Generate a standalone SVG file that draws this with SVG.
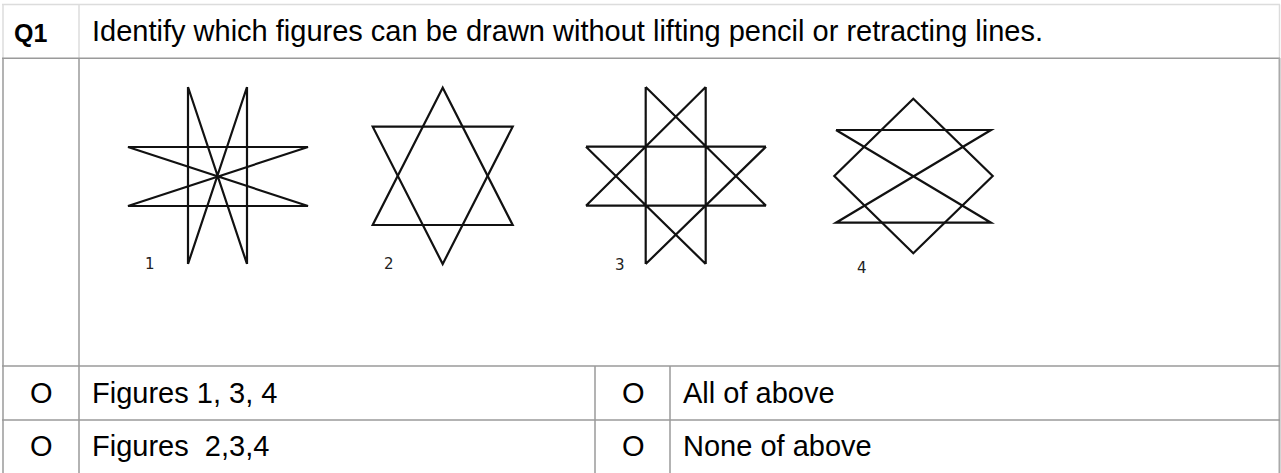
<svg xmlns="http://www.w3.org/2000/svg" width="1281" height="473" viewBox="0 0 1281 473">
<style>
  .txt { font-family: "Liberation Sans", Arial, sans-serif; font-size: 29px; fill: #000; }
  .q { font-family: "Liberation Sans", Arial, sans-serif; font-size: 25px; font-weight: bold; fill: #000; }
  .lbl { font-family: "DejaVu Sans", sans-serif; font-size: 15px; fill: #222; }
  .fig { stroke: #111; stroke-width: 2.2; fill: none; stroke-linecap: butt; stroke-linejoin: miter; }
  .light { stroke: #dcdcdc; stroke-width: 1.5; fill: none; }
  .grid { stroke: #9a9a9a; stroke-width: 1.5; fill: none; }
</style>
<rect x="0" y="0" width="1281" height="473" fill="#fff"/>
<g id="table">
  <line class="light" x1="2" y1="4.5" x2="1280" y2="4.5"/>
  <line class="light" x1="3" y1="4.5" x2="3" y2="58"/>
  <line class="light" x1="79" y1="4.5" x2="79" y2="58"/>
  <line class="light" x1="1279.5" y1="4.5" x2="1279.5" y2="58"/>
  <line class="grid" x1="2" y1="58.3" x2="1280" y2="58.3"/>
  <line class="grid" x1="3" y1="58" x2="3" y2="473"/>
  <line class="grid" x1="79" y1="58" x2="79" y2="473"/>
  <line class="grid" x1="1279.5" y1="58" x2="1279.5" y2="473" style="stroke:#aaa;stroke-width:2"/>
  <line class="grid" x1="2" y1="366" x2="1280" y2="366"/>
  <line class="grid" x1="2" y1="420" x2="1280" y2="420"/>
  <line class="grid" x1="595" y1="366" x2="595" y2="473"/>
  <line class="grid" x1="670" y1="366" x2="670" y2="473"/>
</g>
<g id="header">
  <text class="q" x="14" y="41.5">Q1</text>
  <text class="txt" x="92" y="41">Identify which figures can be drawn without lifting pencil or retracting lines.</text>
</g>
<g id="figure1">
  <path class="fig" d="M128,147 H308 L128,206 H308 Z M128,147 L308,206 M308,147 L128,206"/>
  <path class="fig" d="M188,87 V264 M247,87 V264 M188,87 L247,264 M247,87 L188,264"/>
  <text class="lbl" x="145" y="269">1</text>
</g>
<g id="figure2">
  <polygon class="fig" points="442.7,87.7 372.7,225 512.7,225"/>
  <polygon class="fig" points="372.7,126.7 512.7,126.7 442.7,264"/>
  <text class="lbl" x="384" y="269">2</text>
</g>
<g id="figure3">
  <path class="fig" d="M645.7,87 V264 M705.7,87 V264 M586,146.7 H766 M586,205.7 H766 M645.7,87 L766,205.7 M705.7,87 L586,205.7 M586,146.7 L705.7,264 M766,146.7 L645.7,264"/>
  <text class="lbl" x="615" y="270">3</text>
</g>
<g id="figure4">
  <polygon class="fig" points="913.3,98.7 992.7,176 913.3,253.3 834.3,176"/>
  <path class="fig" d="M836,130 H991 L836,222.7 H991 L836,130"/>
  <text class="lbl" x="857" y="273">4</text>
</g>
<g id="options">
  <text class="txt" x="30" y="403">O</text>
  <text class="txt" x="92" y="403">Figures 1, 3, 4</text>
  <text class="txt" x="622" y="403">O</text>
  <text class="txt" x="683" y="403">All of above</text>
  <text class="txt" x="30" y="456">O</text>
  <text class="txt" x="92" y="456" style="white-space:pre" xml:space="preserve">Figures  2,3,4</text>
  <text class="txt" x="622" y="456">O</text>
  <text class="txt" x="683" y="456">None of above</text>
</g>
</svg>
